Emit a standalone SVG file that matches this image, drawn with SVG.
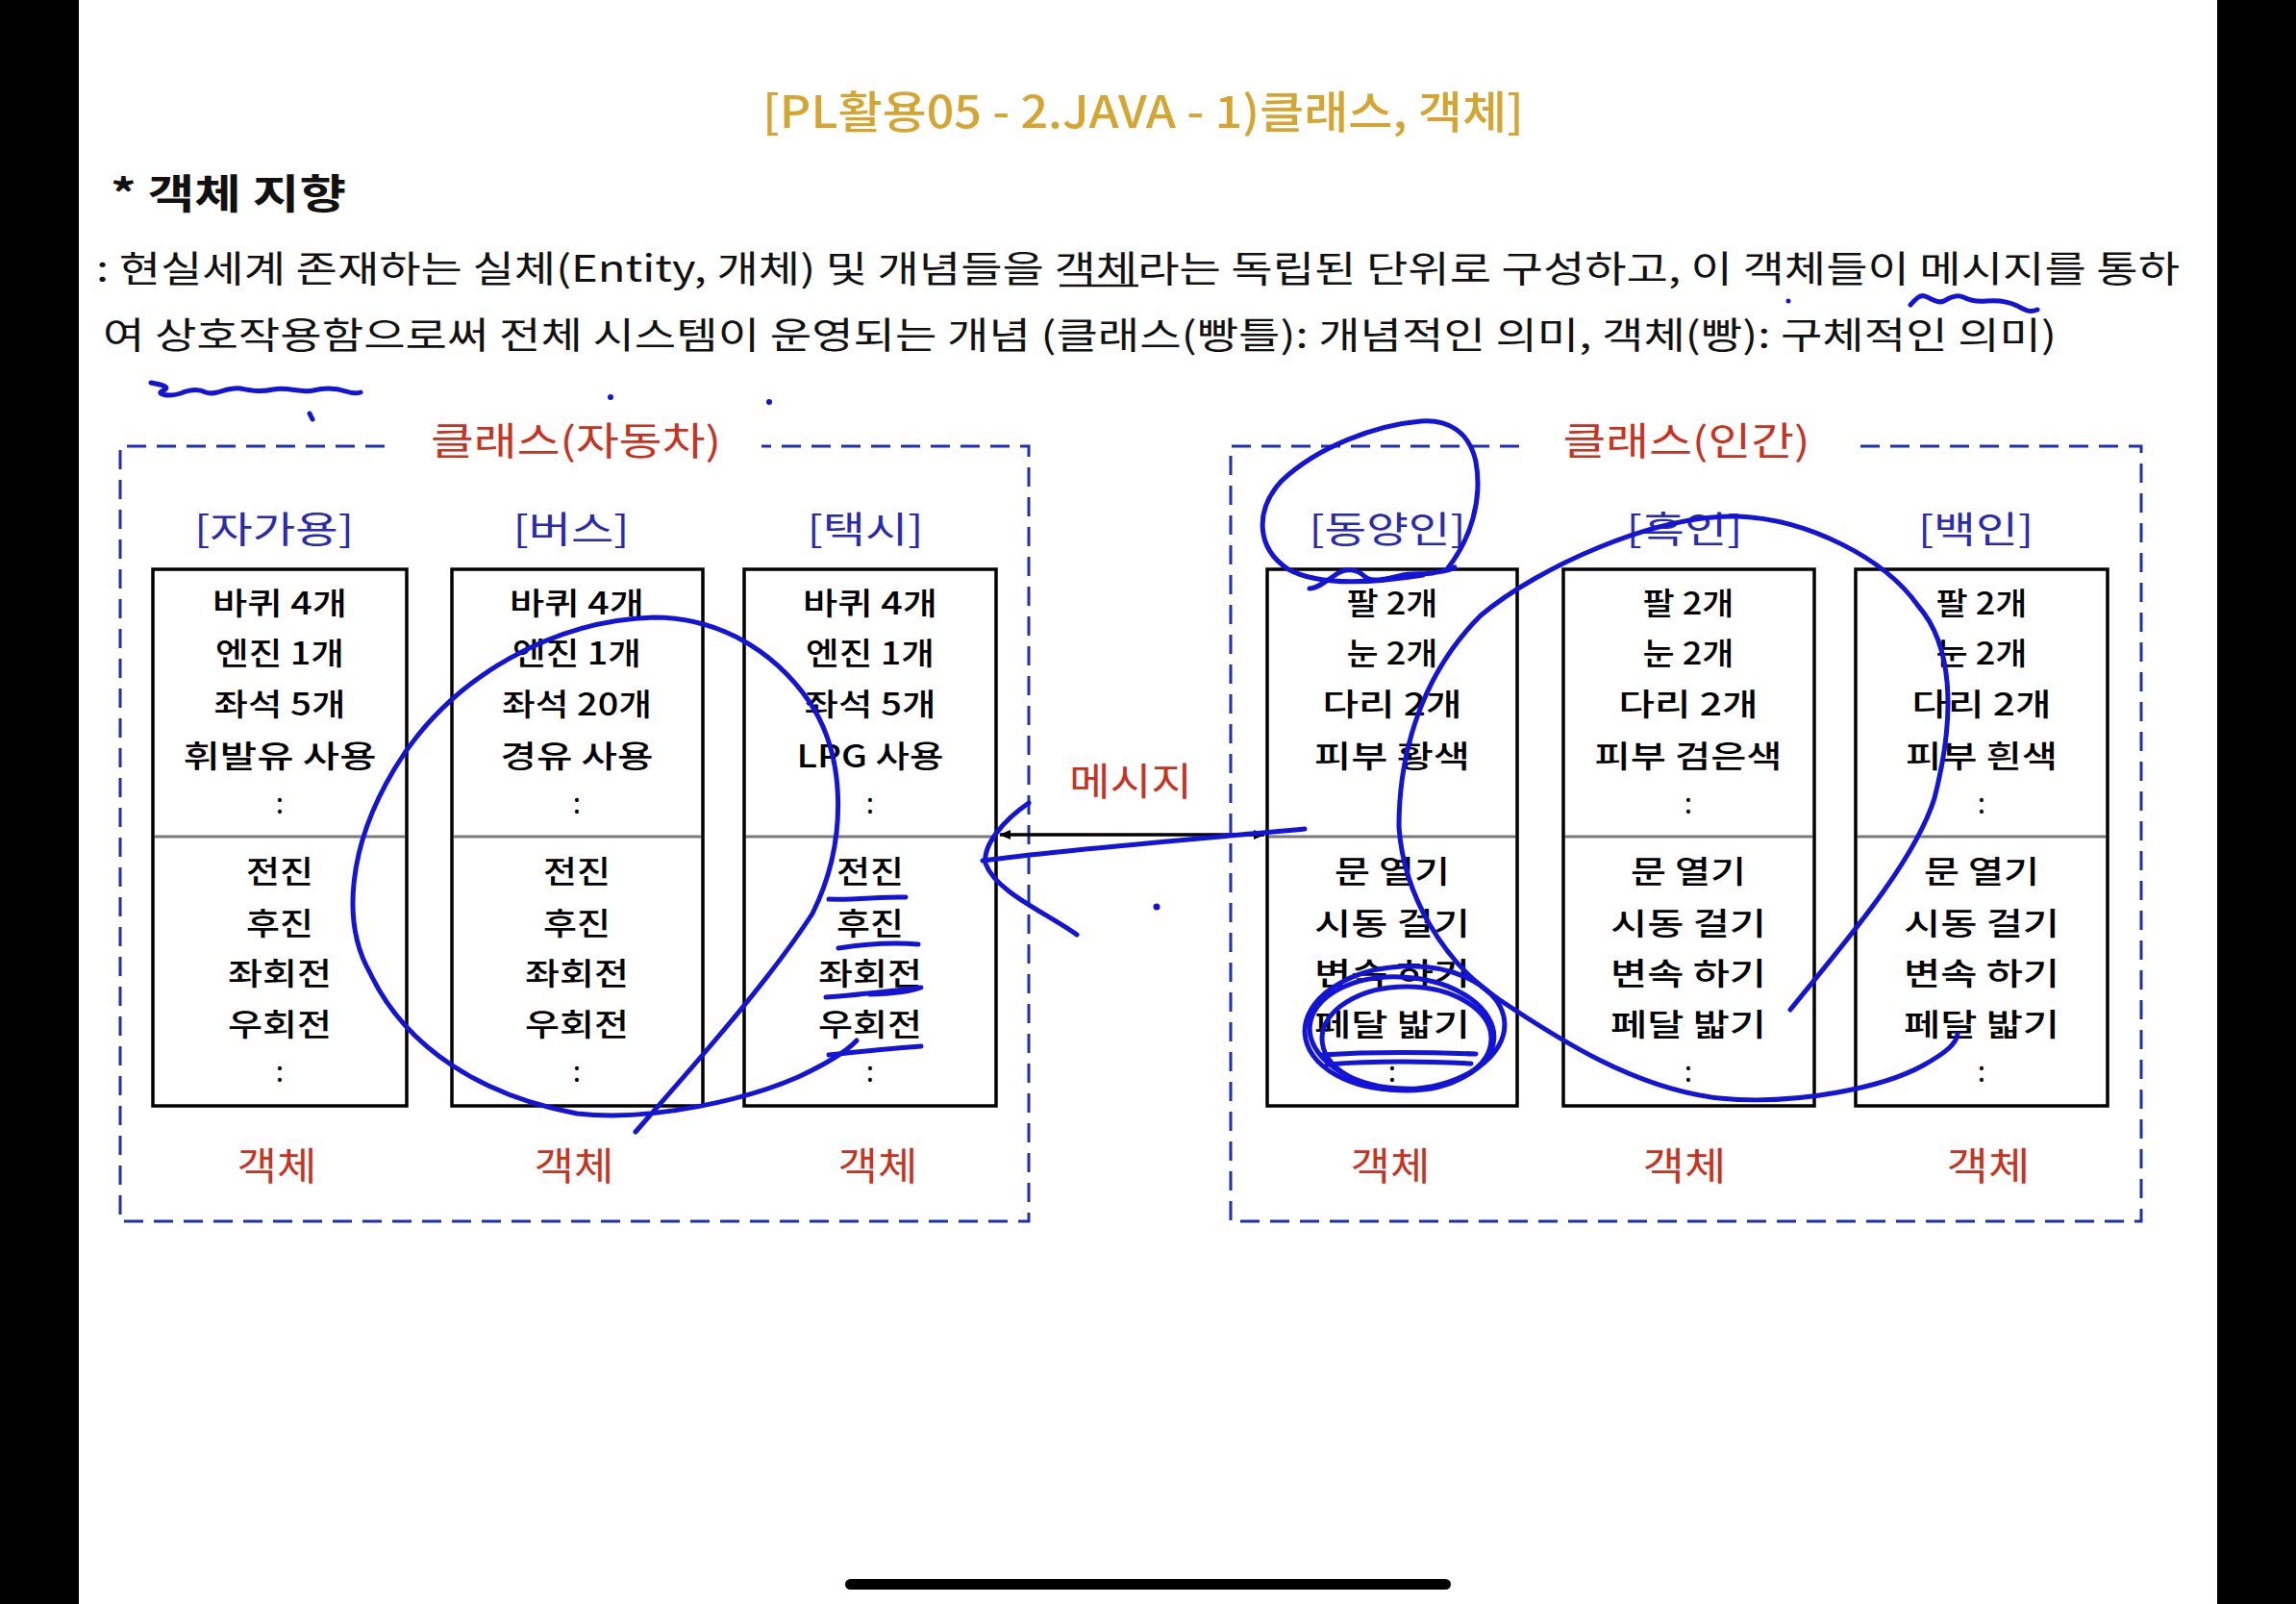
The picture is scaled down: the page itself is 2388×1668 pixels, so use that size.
<svg xmlns="http://www.w3.org/2000/svg" width="2388" height="1668" viewBox="0 0 2388 1668">
<defs>
<style>
.f{font-family:"Noto Sans CJK KR","Noto Sans",sans-serif;dominant-baseline:central}
.t{font-size:32px;fill:#000;text-anchor:middle;font-weight:500}
.c{font-size:30px;fill:#000;text-anchor:middle}
.hdr{font-size:38px;fill:#2a2ab0;text-anchor:middle}
.red{font-size:40px;fill:#c8321e;text-anchor:middle}
.p{font-size:38px;fill:#111}
.box{fill:#fff;stroke:#000;stroke-width:3.5}
.dv{stroke:#7a7a7a;stroke-width:3}
.dash{fill:none;stroke:#1f2fb0;stroke-width:3;stroke-dasharray:20 11}
.ink{fill:none;stroke:#1414d8;stroke-width:5;stroke-linecap:round;stroke-linejoin:round}
</style>
<marker id="ah" viewBox="0 0 12 10" refX="11" refY="5" markerWidth="12" markerHeight="10" markerUnits="userSpaceOnUse" orient="auto-start-reverse">
<path d="M0,0 L12,5 L0,10 Z" fill="#000"/>
</marker>
</defs>
<rect x="0" y="0" width="2388" height="1668" fill="#fff"/>
<rect x="0" y="0" width="82" height="1668" fill="#000"/>
<rect x="2306" y="0" width="82" height="1668" fill="#000"/>
<rect x="879" y="1642" width="630" height="11" rx="5.5" fill="#000"/>

<g id="header">
<text class="f" x="793" y="113" font-size="46" font-weight="500" fill="#D4A531" textLength="792" lengthAdjust="spacingAndGlyphs">[PL활용05 - 2.JAVA - 1)클래스, 객체]</text>
<text class="f" x="115" y="198" font-size="42" font-weight="bold" fill="#111" textLength="245" lengthAdjust="spacingAndGlyphs">* 객체 지향</text>
<text class="f p" x="100" y="276" textLength="2167" lengthAdjust="spacingAndGlyphs">: 현실세계 존재하는 실체(Entity, 개체) 및 개념들을 객체라는 독립된 단위로 구성하고, 이 객체들이 메시지를 통하</text>
<line x1="1102" y1="297" x2="1184" y2="297" stroke="#111" stroke-width="2.5"/>
<text class="f p" x="107" y="345" textLength="2032" lengthAdjust="spacingAndGlyphs">여 상호작용함으로써 전체 시스템이 운영되는 개념 (클래스(빵틀): 개념적인 의미, 객체(빵): 구체적인 의미)</text>
</g>

<g id="class-car">
<path class="dash" d="M400,464 L125,464 L125,1270 L1070,1270 L1070,464 L792,464"/>
<text class="f red" x="599" y="456" textLength="302" lengthAdjust="spacingAndGlyphs">클래스(자동차)</text>
</g>
<g id="class-human">
<path class="dash" d="M1580,464 L1280,464 L1280,1270 L2227,1270 L2227,464 L1933,464"/>
<text class="f red" x="1754" y="456" textLength="257" lengthAdjust="spacingAndGlyphs">클래스(인간)</text>
</g>

<g id="obj-private">
<text class="f hdr" x="285" y="547" textLength="166" lengthAdjust="spacingAndGlyphs">[자가용]</text>
<rect class="box" x="159" y="592" width="264" height="558"/>
<line class="dv" x1="161" y1="870" x2="421" y2="870"/>
<text class="f t" x="291" y="625" textLength="140" lengthAdjust="spacingAndGlyphs">바퀴 4개</text>
<text class="f t" x="291" y="677" textLength="134" lengthAdjust="spacingAndGlyphs">엔진 1개</text>
<text class="f t" x="291" y="730" textLength="137" lengthAdjust="spacingAndGlyphs">좌석 5개</text>
<text class="f t" x="291" y="784" textLength="201" lengthAdjust="spacingAndGlyphs">휘발유 사용</text>
<text class="f c" x="291" y="833">:</text>
<text class="f t" x="291" y="904" textLength="70" lengthAdjust="spacingAndGlyphs">전진</text>
<text class="f t" x="291" y="958" textLength="70" lengthAdjust="spacingAndGlyphs">후진</text>
<text class="f t" x="291" y="1010" textLength="108" lengthAdjust="spacingAndGlyphs">좌회전</text>
<text class="f t" x="291" y="1063" textLength="108" lengthAdjust="spacingAndGlyphs">우회전</text>
<text class="f c" x="291" y="1112">:</text>
<text class="f red" x="288" y="1210" font-size="42" textLength="83" lengthAdjust="spacingAndGlyphs">객체</text>
</g>

<g id="obj-bus">
<text class="f hdr" x="594" y="547" textLength="121" lengthAdjust="spacingAndGlyphs">[버스]</text>
<rect class="box" x="470" y="592" width="261" height="558"/>
<line class="dv" x1="472" y1="870" x2="729" y2="870"/>
<text class="f t" x="600" y="625" textLength="140" lengthAdjust="spacingAndGlyphs">바퀴 4개</text>
<text class="f t" x="600" y="677" textLength="134" lengthAdjust="spacingAndGlyphs">엔진 1개</text>
<text class="f t" x="600" y="730" textLength="156" lengthAdjust="spacingAndGlyphs">좌석 20개</text>
<text class="f t" x="600" y="784" textLength="159" lengthAdjust="spacingAndGlyphs">경유 사용</text>
<text class="f c" x="600" y="833">:</text>
<text class="f t" x="600" y="904" textLength="70" lengthAdjust="spacingAndGlyphs">전진</text>
<text class="f t" x="600" y="958" textLength="70" lengthAdjust="spacingAndGlyphs">후진</text>
<text class="f t" x="600" y="1010" textLength="108" lengthAdjust="spacingAndGlyphs">좌회전</text>
<text class="f t" x="600" y="1063" textLength="108" lengthAdjust="spacingAndGlyphs">우회전</text>
<text class="f c" x="600" y="1112">:</text>
<text class="f red" x="597" y="1210" font-size="42" textLength="83" lengthAdjust="spacingAndGlyphs">객체</text>
</g>

<g id="obj-taxi">
<text class="f hdr" x="900" y="547" textLength="121" lengthAdjust="spacingAndGlyphs">[택시]</text>
<rect class="box" x="774" y="592" width="262" height="558"/>
<line class="dv" x1="776" y1="870" x2="1034" y2="870"/>
<text class="f t" x="905" y="625" textLength="140" lengthAdjust="spacingAndGlyphs">바퀴 4개</text>
<text class="f t" x="905" y="677" textLength="134" lengthAdjust="spacingAndGlyphs">엔진 1개</text>
<text class="f t" x="905" y="730" textLength="137" lengthAdjust="spacingAndGlyphs">좌석 5개</text>
<text class="f t" x="905" y="784" textLength="153" lengthAdjust="spacingAndGlyphs">LPG 사용</text>
<text class="f c" x="905" y="833">:</text>
<text class="f t" x="905" y="904" textLength="70" lengthAdjust="spacingAndGlyphs">전진</text>
<text class="f t" x="905" y="958" textLength="70" lengthAdjust="spacingAndGlyphs">후진</text>
<text class="f t" x="905" y="1010" textLength="108" lengthAdjust="spacingAndGlyphs">좌회전</text>
<text class="f t" x="905" y="1063" textLength="108" lengthAdjust="spacingAndGlyphs">우회전</text>
<text class="f c" x="905" y="1112">:</text>
<text class="f red" x="913" y="1210" font-size="42" textLength="83" lengthAdjust="spacingAndGlyphs">객체</text>
</g>

<g id="obj-asian">
<text class="f hdr" x="1443" y="547" textLength="163" lengthAdjust="spacingAndGlyphs">[동양인]</text>
<rect class="box" x="1318" y="592" width="260" height="558"/>
<line class="dv" x1="1320" y1="870" x2="1576" y2="870"/>
<text class="f t" x="1448" y="625" textLength="95" lengthAdjust="spacingAndGlyphs">팔 2개</text>
<text class="f t" x="1448" y="677" textLength="95" lengthAdjust="spacingAndGlyphs">눈 2개</text>
<text class="f t" x="1448" y="730" textLength="145" lengthAdjust="spacingAndGlyphs">다리 2개</text>
<text class="f t" x="1448" y="784" textLength="162" lengthAdjust="spacingAndGlyphs">피부 황색</text>
<text class="f t" x="1448" y="904" textLength="120" lengthAdjust="spacingAndGlyphs">문 열기</text>
<text class="f t" x="1448" y="958" textLength="162" lengthAdjust="spacingAndGlyphs">시동 걸기</text>
<text class="f t" x="1448" y="1010" textLength="162" lengthAdjust="spacingAndGlyphs">변속 하기</text>
<text class="f t" x="1448" y="1063" textLength="162" lengthAdjust="spacingAndGlyphs">페달 밟기</text>
<text class="f c" x="1448" y="1112">:</text>
<text class="f red" x="1446" y="1210" font-size="42" textLength="83" lengthAdjust="spacingAndGlyphs">객체</text>
</g>

<g id="obj-black">
<text class="f hdr" x="1752" y="547" textLength="121" lengthAdjust="spacingAndGlyphs">[흑인]</text>
<rect class="box" x="1626" y="592" width="261" height="558"/>
<line class="dv" x1="1628" y1="870" x2="1885" y2="870"/>
<text class="f t" x="1756" y="625" textLength="95" lengthAdjust="spacingAndGlyphs">팔 2개</text>
<text class="f t" x="1756" y="677" textLength="95" lengthAdjust="spacingAndGlyphs">눈 2개</text>
<text class="f t" x="1756" y="730" textLength="145" lengthAdjust="spacingAndGlyphs">다리 2개</text>
<text class="f t" x="1756" y="784" textLength="195" lengthAdjust="spacingAndGlyphs">피부 검은색</text>
<text class="f c" x="1756" y="833">:</text>
<text class="f t" x="1756" y="904" textLength="120" lengthAdjust="spacingAndGlyphs">문 열기</text>
<text class="f t" x="1756" y="958" textLength="162" lengthAdjust="spacingAndGlyphs">시동 걸기</text>
<text class="f t" x="1756" y="1010" textLength="162" lengthAdjust="spacingAndGlyphs">변속 하기</text>
<text class="f t" x="1756" y="1063" textLength="162" lengthAdjust="spacingAndGlyphs">페달 밟기</text>
<text class="f c" x="1756" y="1112">:</text>
<text class="f red" x="1752" y="1210" font-size="42" textLength="87" lengthAdjust="spacingAndGlyphs">객체</text>
</g>

<g id="obj-white">
<text class="f hdr" x="2055" y="547" textLength="120" lengthAdjust="spacingAndGlyphs">[백인]</text>
<rect class="box" x="1930" y="592" width="262" height="558"/>
<line class="dv" x1="1932" y1="870" x2="2190" y2="870"/>
<text class="f t" x="2061" y="625" textLength="95" lengthAdjust="spacingAndGlyphs">팔 2개</text>
<text class="f t" x="2061" y="677" textLength="95" lengthAdjust="spacingAndGlyphs">눈 2개</text>
<text class="f t" x="2061" y="730" textLength="145" lengthAdjust="spacingAndGlyphs">다리 2개</text>
<text class="f t" x="2061" y="784" textLength="158" lengthAdjust="spacingAndGlyphs">피부 흰색</text>
<text class="f c" x="2061" y="833">:</text>
<text class="f t" x="2061" y="904" textLength="120" lengthAdjust="spacingAndGlyphs">문 열기</text>
<text class="f t" x="2061" y="958" textLength="162" lengthAdjust="spacingAndGlyphs">시동 걸기</text>
<text class="f t" x="2061" y="1010" textLength="162" lengthAdjust="spacingAndGlyphs">변속 하기</text>
<text class="f t" x="2061" y="1063" textLength="162" lengthAdjust="spacingAndGlyphs">페달 밟기</text>
<text class="f c" x="2061" y="1112">:</text>
<text class="f red" x="2068" y="1210" font-size="42" textLength="87" lengthAdjust="spacingAndGlyphs">객체</text>
</g>

<g id="connectors">
<line x1="1040" y1="868" x2="1315" y2="868" stroke="#000" stroke-width="3.5" marker-start="url(#ah)" marker-end="url(#ah)"/>
<text class="f red" x="1176" y="810" font-size="42" textLength="128" lengthAdjust="spacingAndGlyphs">메시지</text>
</g>

<g id="annotations">
<path class="ink" d="M157,398 C168,400 178,402 170,406 C160,410 176,413 188,409 C198,405 206,404 214,408 C224,412 236,402 250,404 C262,406 270,408 284,405 C300,402 312,409 326,406 C338,403 348,403 360,407 C366,409 372,409 375,408"/>
<circle cx="635" cy="413" r="3" fill="#1414d8"/>
<circle cx="800" cy="418" r="3" fill="#1414d8"/>
<path class="ink" stroke-width="3" d="M322,430 L325,436"/>
<path class="ink" stroke-width="4" d="M1987,317 C1992,312 1996,306 2002,308 C2010,311 2016,316 2022,313 C2030,308 2036,306 2042,309 C2050,313 2058,314 2066,313 C2078,312 2090,314 2098,318 C2104,321 2110,326 2119,322"/>
<circle cx="1860" cy="313" r="2.5" fill="#1414d8"/>
<path class="ink" d="M661,1177 C720,1110 800,1020 845,950 C880,880 882,790 842,730 C802,672 742,642 680,642 C580,645 470,700 410,800 C362,880 355,960 385,1012 C422,1090 502,1140 600,1158 C680,1167 780,1142 830,1120 C860,1106 880,1094 891,1082"/>
<path class="ink" d="M862,935 C890,936 920,932 942,933"/>
<path class="ink" d="M872,986 C898,982 930,980 955,982"/>
<path class="ink" d="M859,1037 C890,1035 930,1030 958,1027 C950,1030 930,1034 905,1034"/>
<path class="ink" d="M862,1097 C890,1094 930,1090 958,1088"/>
<path class="ink" d="M1357,862 C1250,872 1100,884 1022,895"/>
<path class="ink" d="M1070,835 C1045,852 1022,878 1025,898 C1036,928 1090,950 1120,972"/>
<circle cx="1203" cy="943" r="3.5" fill="#1414d8"/>
<path class="ink" d="M1505,592 C1530,560 1542,520 1535,480 C1528,448 1505,436 1478,438 C1430,442 1370,465 1333,500 C1305,530 1306,570 1340,592 C1372,610 1430,606 1480,598"/>
<path class="ink" d="M1362,612 C1370,612 1380,604 1390,597 C1400,590 1412,592 1420,600 C1428,606 1442,602 1455,599 C1468,595 1478,598 1490,596 C1500,594 1508,593 1513,590"/>
<path class="ink" d="M1862,1050 C1910,990 1990,900 2012,830 C2035,740 2030,670 1995,630 C1960,580 1880,540 1808,537 C1720,535 1600,590 1540,640 C1480,700 1455,780 1455,860 C1460,930 1500,1000 1560,1040 C1620,1080 1700,1132 1788,1142 C1870,1150 1960,1130 2000,1108 C2025,1094 2035,1085 2036,1075"/>
<ellipse class="ink" cx="1461" cy="1069" rx="104" ry="64" transform="rotate(-3 1461 1069)"/>
<ellipse class="ink" cx="1458" cy="1074" rx="96" ry="58" transform="rotate(4 1458 1074)"/>
<ellipse class="ink" cx="1463" cy="1080" rx="88" ry="54"/>
<path class="ink" stroke-width="9" d="M1375,1097 C1420,1094 1480,1094 1535,1096 M1380,1107 C1430,1103 1490,1104 1530,1106"/>
</g>
</svg>
